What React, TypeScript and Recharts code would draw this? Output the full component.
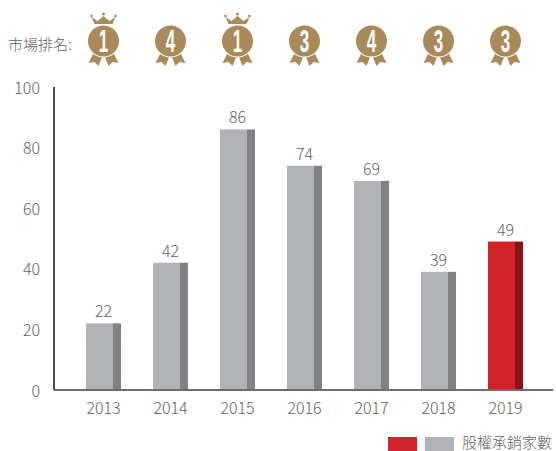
import React from "react";
import { BarChart, Bar, XAxis, YAxis, LabelList } from "recharts";

const years = ["2013", "2014", "2015", "2016", "2017", "2018", "2019"];
const deals = [22, 42, 86, 74, 69, 39, 49];
const ranks = [1, 4, 1, 3, 4, 3, 3];
const yTicks = [0, 20, 40, 60, 80, 100];
const legendLabel = "股權承銷家數";
const rankLabel = "市場排名:";

const data = years.map((year, i) => ({ year, deals: deals[i], rank: ranks[i] }));

const FONT = '"Noto Sans CJK TC", "Noto Sans", sans-serif';
const GOLD = "#a98a5a";
const TEXT = "#5f5f5f";

const TwoToneBar = (props: any) => {
  const { x, y, width, height, index } = props;
  const isLast = index === years.length - 1;
  const side = width * (8 / 35);
  return (
    <g>
      <rect x={x} y={y} width={width - side} height={height} fill={isLast ? "#d2232a" : "#b1b2b5"} />
      <rect x={x + width - side} y={y} width={side} height={height} fill={isLast ? "#8e1216" : "#808184"} />
    </g>
  );
};

const MedalTick = (props: any) => {
  const { x, index } = props;
  const rank = ranks[index];
  const cx = x;
  const cy = 41;
  return (
    <g>
      {rank === 1 && (
        <g fill={GOLD}>
          <path d={`M${cx - 9} ${cy - 17} L${cx - 12} ${cy - 24} L${cx - 6} ${cy - 20} L${cx} ${cy - 25} L${cx + 6} ${cy - 20} L${cx + 12} ${cy - 24} L${cx + 9} ${cy - 17} Z`} />
          <circle cx={cx - 12} cy={cy - 25} r={1.3} />
          <circle cx={cx} cy={cy - 27} r={1.6} />
          <circle cx={cx + 12} cy={cy - 25} r={1.3} />
        </g>
      )}
      <path fill={GOLD} d={`M${cx - 10} ${cy + 12} L${cx - 15} ${cy + 22} L${cx - 9} ${cy + 21} L${cx - 5} ${cy + 25} L${cx - 1} ${cy + 15} Z`} />
      <path fill={GOLD} d={`M${cx + 10} ${cy + 12} L${cx + 15} ${cy + 22} L${cx + 9} ${cy + 21} L${cx + 5} ${cy + 25} L${cx + 1} ${cy + 15} Z`} />
      <circle cx={cx} cy={cy} r={16.5} fill="#fff" />
      <circle cx={cx} cy={cy} r={15.5} fill={GOLD} />
      <text
        x={0}
        y={0}
        transform={`translate(${cx} ${cy + 11}) scale(0.68 1.28)`}
        textAnchor="middle"
        fontFamily='"Liberation Sans", sans-serif'
        fontWeight={700}
        fontSize={25}
        fill="#fff"
      >
        {rank}
      </text>
    </g>
  );
};

export default function App() {
  return (
    <div style={{ position: "absolute", left: 0, top: 0, width: 556, height: 451, overflow: "hidden" }}>
      <div style={{ position: "absolute", left: 8, top: 33, fontSize: 15, lineHeight: "22px", color: TEXT, fontFamily: FONT, fontWeight: 300, whiteSpace: "nowrap", zIndex: 2 }}>
        {rankLabel}
      </div>
      <BarChart
        width={556}
        height={451}
        data={data}
        margin={{ top: 0, right: 3, bottom: 31, left: 0 }}
        barCategoryGap={0}
        style={{ fontFamily: FONT }}
      >
        <XAxis
          xAxisId="top"
          orientation="top"
          dataKey="year"
          height={87}
          axisLine={false}
          tickLine={false}
          tick={<MedalTick />}
          interval={0}
          padding={{ left: 16, right: 14 }}
        />
        <XAxis
          dataKey="year"
          axisLine={{ stroke: "#6d6e71", strokeWidth: 2 }}
          tickLine={false}
          tick={{ fill: TEXT, fontSize: 16, fontWeight: 300, dy: 5 }}
          interval={0}
          height={30}
          padding={{ left: 16, right: 14 }}
        />
        <YAxis
          domain={[0, 100]}
          ticks={yTicks}
          width={54}
          axisLine={{ stroke: "#4d4d4f", strokeWidth: 2 }}
          tickLine={false}
          tick={{ fill: TEXT, fontSize: 16, fontWeight: 300, dx: -6, dy: 1 }}
          interval={0}
        />
        <Bar dataKey="deals" barSize={35} shape={<TwoToneBar />} isAnimationActive={false}>
          <LabelList dataKey="deals" position="top" offset={6} fill={TEXT} fontSize={16} fontWeight={300} />
        </Bar>
      </BarChart>
      <div style={{ position: "absolute", left: 388, top: 437, width: 29, height: 14, background: "#d2232a" }} />
      <div style={{ position: "absolute", left: 425, top: 437, width: 29, height: 14, background: "#b1b2b5" }} />
      <div style={{ position: "absolute", left: 462, top: 434, fontSize: 15, lineHeight: "16px", color: TEXT, fontFamily: FONT, fontWeight: 300, whiteSpace: "nowrap" }}>
        {legendLabel}
      </div>
    </div>
  );
}
